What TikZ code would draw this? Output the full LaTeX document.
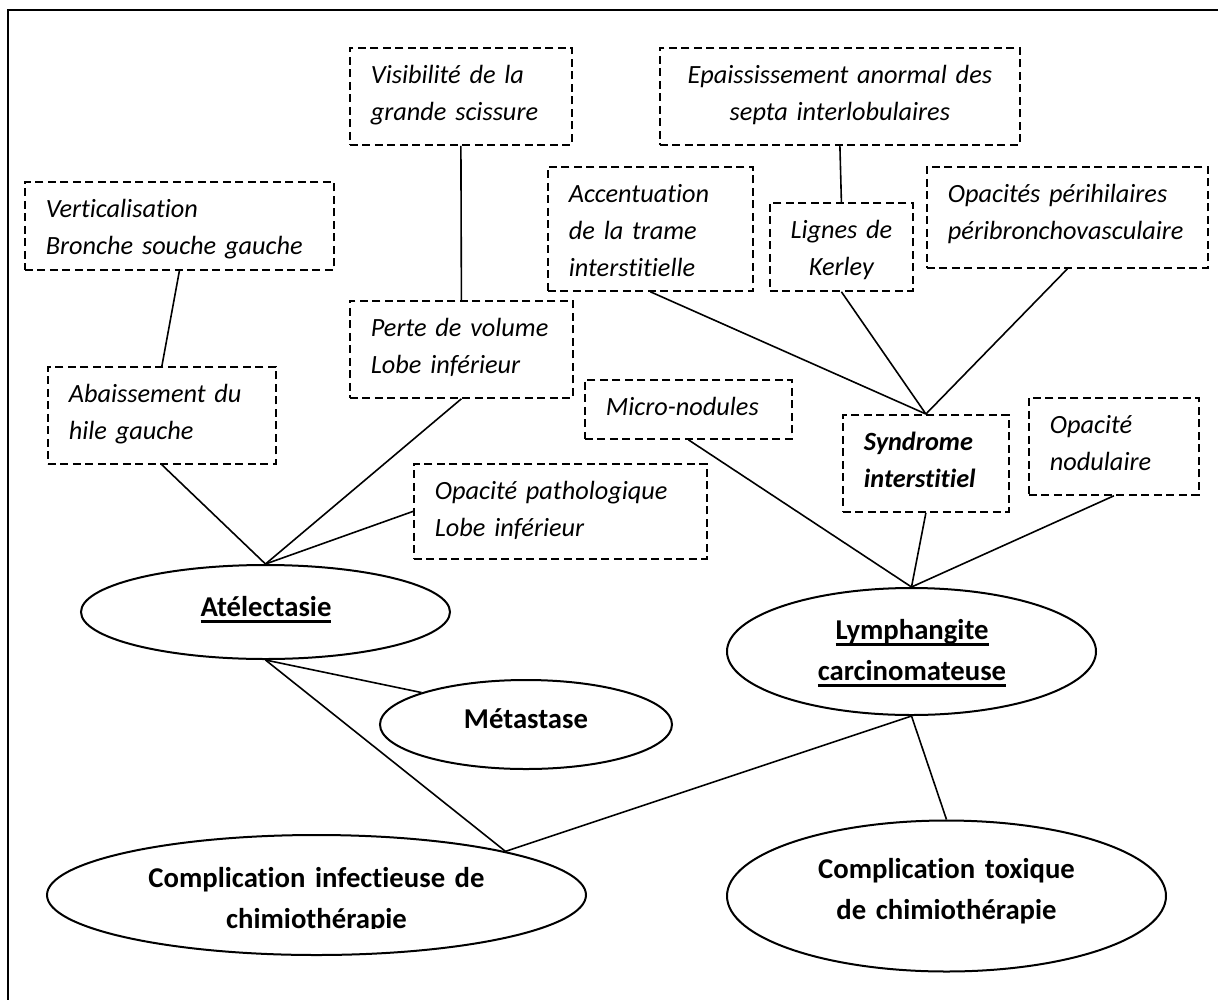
\documentclass[tikz,border=0pt]{standalone}
\usepackage{fontspec}
\setmainfont{Carlito}[Ligatures={NoCommon,NoRequired,NoContextual}]
\usetikzlibrary{shapes.geometric}

\hyphenpenalty=10000
\exhyphenpenalty=10000

% text styles of the finding boxes and of the ovals
\newcommand\itsz{\fontsize{26.3}{37}\selectfont\itshape}
\newcommand\bfsz{\fontsize{28.7}{41}\selectfont\bfseries}
% word-processor style underline at a fixed depth
\newcommand\ulword[1]{\leavevmode\setbox0\hbox{#1}\rlap{\rule[-6.5pt]{\wd0}{2.6pt}}\box0}

\tikzset{
  finding/.style={draw, line width=1.8pt, dash pattern=on 8pt off 4.5pt,
    inner xsep=21pt, inner ysep=0pt, text height=36pt,
    anchor=north west, font=\itsz, align=left},
  link/.style={line width=1.6pt},
  oval/.style={draw, ellipse, line width=2pt, inner sep=0pt},
  ovaltext/.style={font=\bfsz, align=center, anchor=base, text width=520pt, inner sep=0pt}
}

\begin{document}
\begin{tikzpicture}[x=1pt, y=-1pt]
\useasboundingbox (0,0) rectangle (1218,999);

% outer frame
\draw[line width=2.2pt] (8,1020) -- (8,10) -- (1240,10);

% dashed finding boxes
\node[finding, text width=180pt, text depth=61pt] (vis) at (349,47) {Visibilité de la\\grande scissure};
\node[finding, text width=267pt, text depth=52pt] (vert) at (24,181) {Verticalisation\\Bronche souche gauche};
\node[finding, text width=186pt, text depth=61pt] (abai) at (47,366) {Abaissement du\\hile gauche};
\node[finding, text width=181pt, text depth=61pt] (perte) at (349,300) {Perte de volume\\Lobe inférieur};
\node[finding, text width=163pt, text depth=88pt] (accent) at (547,166) {Accentuation\\de la trame\\interstitielle};
\node[finding, text width=165pt, text depth=23pt] (micro) at (584,379) {Micro-nodules};
\node[finding, text width=251pt, text depth=59pt] (patho) at (413,463) {Opacité pathologique\\Lobe inférieur};
\node[finding, text width=318pt, text depth=61pt, align=center] (epais) at (659,47) {Epaississement anormal des\\septa interlobulaires};
\node[finding, inner xsep=5pt, text width=133pt, text depth=52pt, align=center] (kerley) at (769,202) {Lignes de\\Kerley};
\node[finding, text width=239pt, text depth=65pt] (peri) at (926,166) {Opacités périhilaires\\péribronchovasculaire};
\node[finding, text width=124pt, text depth=61pt, font=\itsz\bfseries] (synd) at (842,414) {Syndrome\\interstitiel};
\node[finding, text width=128pt, text depth=61pt] (nodul) at (1028,397) {Opacité\\nodulaire};

% ovals
\node[oval, minimum width=369pt, minimum height=94pt] (atel) at (265.5,612) {};
\node[oval, minimum width=292pt, minimum height=89pt] (meta) at (526,724.5) {};
\node[oval, minimum width=539pt, minimum height=120pt] (inf) at (316.5,895) {};
\node[oval, minimum width=369pt, minimum height=127pt] (lymph) at (911.5,651.5) {};
\node[oval, minimum width=439pt, minimum height=151pt] (tox) at (946.5,896) {};

% oval labels
\node[ovaltext] (atel-t) at (266,616) {\ulword{Atélectasie}};
\node[ovaltext] (meta-t) at (526,728) {Métastase};
\begin{scope}
  \clip (0,0) rectangle (1218,928);
  \node[ovaltext] (inf-t) at (316.5,887) {Complication infectieuse de\\chimiothérapie};
\end{scope}
\node[ovaltext] (lymph-t) at (912,639) {\ulword{Lymphangite}\\\ulword{carcinomateuse}};
\node[ovaltext] (tox-t) at (946.5,878) {Complication toxique\\de chimiothérapie};

% connectors
\draw[link] (vis.south) -- (perte.north);
\draw[link] (vert.south) -- (abai.north);
\draw[link] (abai.south) -- (atel.north);
\draw[link] (perte.south) -- (atel.north);
\draw[link] (patho.west) -- (atel.north);
\draw[link] (epais.south) -- (kerley.north);
\draw[link] (accent.south) -- (synd.north);
\draw[link] (kerley.south) -- (synd.north);
\draw[link] (peri.south) -- (synd.north);
\draw[link] (micro.south) -- (lymph.north);
\draw[link] (synd.south) -- (lymph.north);
\draw[link] (nodul.south) -- (lymph.north);
\draw[link] (atel.south) -- (meta.163);
\draw[link] (atel.south) -- (inf.13);
\draw[link] (lymph.south) -- (inf.13);
\draw[link] (lymph.south) -- (tox.north);
\end{tikzpicture}
\end{document}
